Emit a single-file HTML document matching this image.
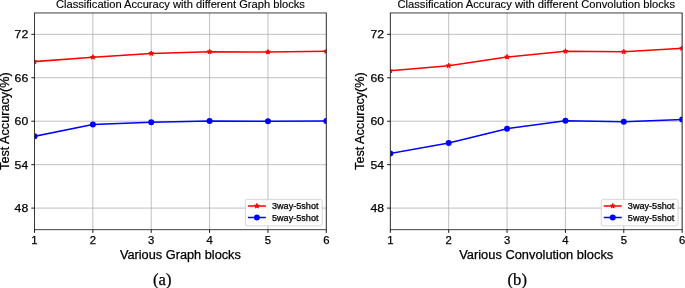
<!DOCTYPE html>
<html><head><meta charset="utf-8"><style>
html,body{margin:0;padding:0;background:#fff;width:685px;height:288px;overflow:hidden;}
svg{display:block;will-change:transform;}

</style></head><body>
<svg width="685" height="288" viewBox="0 0 685 288"><rect width="685" height="288" fill="#fff"/><clipPath id="clip0"><rect x="34.5" y="12.95" width="291.8" height="216.75"/></clipPath>
<path d="M34.50,12.95V229.7 M92.86,12.95V229.7 M151.22,12.95V229.7 M209.58,12.95V229.7 M267.94,12.95V229.7 M326.30,12.95V229.7 M34.5,208.10H326.3 M34.5,164.66H326.3 M34.5,121.22H326.3 M34.5,77.78H326.3 M34.5,34.34H326.3" stroke="#b0b0b0" stroke-width="0.8" stroke-opacity="1.0" fill="none"/>
<g clip-path="url(#clip0)">
<path d="M34.50,61.60 L92.86,57.20 L151.22,53.40 L209.58,51.70 L267.94,52.00 L326.30,51.30" stroke="#ff0000" stroke-width="1.5" fill="none" stroke-linejoin="round" stroke-linecap="square"/>
<path d="M34.50,136.30 L92.86,124.40 L151.22,122.30 L209.58,121.10 L267.94,121.30 L326.30,120.90" stroke="#0000ff" stroke-width="1.5" fill="none" stroke-linejoin="round" stroke-linecap="square"/>
<path d="M34.50,59.10 L35.06,60.83 L36.88,60.83 L35.41,61.90 L35.97,63.62 L34.50,62.55 L33.03,63.62 L33.59,61.90 L32.12,60.83 L33.94,60.83Z" fill="#ff0000" stroke="#ff0000" stroke-width="1.0" stroke-linejoin="round"/>
<circle cx="34.50" cy="136.30" r="3.0" fill="#0000ff"/>
<path d="M92.86,54.70 L93.42,56.43 L95.24,56.43 L93.77,57.50 L94.33,59.22 L92.86,58.15 L91.39,59.22 L91.95,57.50 L90.48,56.43 L92.30,56.43Z" fill="#ff0000" stroke="#ff0000" stroke-width="1.0" stroke-linejoin="round"/>
<circle cx="92.86" cy="124.40" r="3.0" fill="#0000ff"/>
<path d="M151.22,50.90 L151.78,52.63 L153.60,52.63 L152.13,53.70 L152.69,55.42 L151.22,54.35 L149.75,55.42 L150.31,53.70 L148.84,52.63 L150.66,52.63Z" fill="#ff0000" stroke="#ff0000" stroke-width="1.0" stroke-linejoin="round"/>
<circle cx="151.22" cy="122.30" r="3.0" fill="#0000ff"/>
<path d="M209.58,49.20 L210.14,50.93 L211.96,50.93 L210.49,52.00 L211.05,53.72 L209.58,52.65 L208.11,53.72 L208.67,52.00 L207.20,50.93 L209.02,50.93Z" fill="#ff0000" stroke="#ff0000" stroke-width="1.0" stroke-linejoin="round"/>
<circle cx="209.58" cy="121.10" r="3.0" fill="#0000ff"/>
<path d="M267.94,49.50 L268.50,51.23 L270.32,51.23 L268.85,52.30 L269.41,54.02 L267.94,52.95 L266.47,54.02 L267.03,52.30 L265.56,51.23 L267.38,51.23Z" fill="#ff0000" stroke="#ff0000" stroke-width="1.0" stroke-linejoin="round"/>
<circle cx="267.94" cy="121.30" r="3.0" fill="#0000ff"/>
<path d="M326.30,48.80 L326.86,50.53 L328.68,50.53 L327.21,51.60 L327.77,53.32 L326.30,52.25 L324.83,53.32 L325.39,51.60 L323.92,50.53 L325.74,50.53Z" fill="#ff0000" stroke="#ff0000" stroke-width="1.0" stroke-linejoin="round"/>
<circle cx="326.30" cy="120.90" r="3.0" fill="#0000ff"/>
</g>
<rect x="245.40" y="199.35" width="76.8" height="26.5" rx="2" ry="2" fill="#fff" fill-opacity="0.8" stroke="#cccccc" stroke-width="0.8"/>
<path d="M247.90,206 H265.90" stroke="#ff0000" stroke-width="1.5"/>
<path d="M256.90,203.50 L257.46,205.23 L259.28,205.23 L257.81,206.30 L258.37,208.02 L256.90,206.95 L255.43,208.02 L255.99,206.30 L254.52,205.23 L256.34,205.23Z" fill="#ff0000" stroke="#ff0000" stroke-width="1.0" stroke-linejoin="round"/>
<path d="M247.90,217.5 H265.90" stroke="#0000ff" stroke-width="1.5"/>
<circle cx="256.90" cy="217.5" r="3.0" fill="#0000ff"/>
<text x="272.00" y="209.20" font-size="8.3" font-family='"Liberation Sans", sans-serif' text-anchor="start" fill="#000" stroke="#000" stroke-width="0.25" textLength="46.5" lengthAdjust="spacingAndGlyphs" >3way-5shot</text>
<text x="272.00" y="221.00" font-size="8.3" font-family='"Liberation Sans", sans-serif' text-anchor="start" fill="#000" stroke="#000" stroke-width="0.25" textLength="46.5" lengthAdjust="spacingAndGlyphs" >5way-5shot</text>
<rect x="34.5" y="12.95" width="291.8" height="216.75" fill="none" stroke="#2a2a2a" stroke-width="0.9"/>
<path d="M34.50,229.7v3.2 M92.86,229.7v3.2 M151.22,229.7v3.2 M209.58,229.7v3.2 M267.94,229.7v3.2 M326.30,229.7v3.2 M34.5,208.10h-3.2 M34.5,164.66h-3.2 M34.5,121.22h-3.2 M34.5,77.78h-3.2 M34.5,34.34h-3.2" stroke="#000" stroke-width="0.9"/>
<text x="34.50" y="243.80" font-size="11.3" font-family='"Liberation Sans", sans-serif' text-anchor="middle" fill="#000" stroke="#000" stroke-width="0.25" >1</text>
<text x="92.86" y="243.80" font-size="11.3" font-family='"Liberation Sans", sans-serif' text-anchor="middle" fill="#000" stroke="#000" stroke-width="0.25" >2</text>
<text x="151.22" y="243.80" font-size="11.3" font-family='"Liberation Sans", sans-serif' text-anchor="middle" fill="#000" stroke="#000" stroke-width="0.25" >3</text>
<text x="209.58" y="243.80" font-size="11.3" font-family='"Liberation Sans", sans-serif' text-anchor="middle" fill="#000" stroke="#000" stroke-width="0.25" >4</text>
<text x="267.94" y="243.80" font-size="11.3" font-family='"Liberation Sans", sans-serif' text-anchor="middle" fill="#000" stroke="#000" stroke-width="0.25" >5</text>
<text x="326.30" y="243.80" font-size="11.3" font-family='"Liberation Sans", sans-serif' text-anchor="middle" fill="#000" stroke="#000" stroke-width="0.25" >6</text>
<text x="28.20" y="212.20" font-size="11.4" font-family='"Liberation Sans", sans-serif' text-anchor="end" fill="#000" stroke="#000" stroke-width="0.25" textLength="13.6" lengthAdjust="spacingAndGlyphs" >48</text>
<text x="28.20" y="168.76" font-size="11.4" font-family='"Liberation Sans", sans-serif' text-anchor="end" fill="#000" stroke="#000" stroke-width="0.25" textLength="13.6" lengthAdjust="spacingAndGlyphs" >54</text>
<text x="28.20" y="125.32" font-size="11.4" font-family='"Liberation Sans", sans-serif' text-anchor="end" fill="#000" stroke="#000" stroke-width="0.25" textLength="13.6" lengthAdjust="spacingAndGlyphs" >60</text>
<text x="28.20" y="81.88" font-size="11.4" font-family='"Liberation Sans", sans-serif' text-anchor="end" fill="#000" stroke="#000" stroke-width="0.25" textLength="13.6" lengthAdjust="spacingAndGlyphs" >66</text>
<text x="28.20" y="38.44" font-size="11.4" font-family='"Liberation Sans", sans-serif' text-anchor="end" fill="#000" stroke="#000" stroke-width="0.25" textLength="13.6" lengthAdjust="spacingAndGlyphs" >72</text>
<text x="180.40" y="7.80" font-size="10.0" font-family='"Liberation Sans", sans-serif' text-anchor="middle" fill="#000" stroke="#000" stroke-width="0.12" textLength="249" lengthAdjust="spacingAndGlyphs" >Classification Accuracy with different Graph blocks</text>
<text x="180.40" y="258.70" font-size="12.0" font-family='"Liberation Sans", sans-serif' text-anchor="middle" fill="#000" stroke="#000" stroke-width="0.25" textLength="121" lengthAdjust="spacingAndGlyphs" >Various Graph blocks</text>
<text x="0.00" y="0.00" font-size="12.0" font-family='"Liberation Sans", sans-serif' text-anchor="middle" fill="#000" stroke="#000" stroke-width="0.25" textLength="97.6" lengthAdjust="spacingAndGlyphs" transform="translate(8.50,121.1) rotate(-90)">Test Accuracy(%)</text>
<text x="153.00" y="284.90" font-size="16.6" font-family='"Liberation Serif", serif' text-anchor="start" fill="#000" stroke="#000" stroke-width="0.25" >(a)</text><clipPath id="clip355"><rect x="390.34" y="12.95" width="291.8" height="216.75"/></clipPath>
<path d="M390.34,12.95V229.7 M448.70,12.95V229.7 M507.06,12.95V229.7 M565.42,12.95V229.7 M623.78,12.95V229.7 M682.14,12.95V229.7 M390.34,208.10H682.14 M390.34,164.66H682.14 M390.34,121.22H682.14 M390.34,77.78H682.14 M390.34,34.34H682.14" stroke="#b0b0b0" stroke-width="0.8" stroke-opacity="1.0" fill="none"/>
<g clip-path="url(#clip355)">
<path d="M390.34,70.80 L448.70,65.70 L507.06,57.00 L565.42,51.20 L623.78,51.80 L682.14,48.30" stroke="#ff0000" stroke-width="1.5" fill="none" stroke-linejoin="round" stroke-linecap="square"/>
<path d="M390.34,153.40 L448.70,143.00 L507.06,128.70 L565.42,120.70 L623.78,121.70 L682.14,119.60" stroke="#0000ff" stroke-width="1.5" fill="none" stroke-linejoin="round" stroke-linecap="square"/>
<path d="M390.34,68.30 L390.90,70.03 L392.72,70.03 L391.25,71.10 L391.81,72.82 L390.34,71.75 L388.87,72.82 L389.43,71.10 L387.96,70.03 L389.78,70.03Z" fill="#ff0000" stroke="#ff0000" stroke-width="1.0" stroke-linejoin="round"/>
<circle cx="390.34" cy="153.40" r="3.0" fill="#0000ff"/>
<path d="M448.70,63.20 L449.26,64.93 L451.08,64.93 L449.61,66.00 L450.17,67.72 L448.70,66.65 L447.23,67.72 L447.79,66.00 L446.32,64.93 L448.14,64.93Z" fill="#ff0000" stroke="#ff0000" stroke-width="1.0" stroke-linejoin="round"/>
<circle cx="448.70" cy="143.00" r="3.0" fill="#0000ff"/>
<path d="M507.06,54.50 L507.62,56.23 L509.44,56.23 L507.97,57.30 L508.53,59.02 L507.06,57.95 L505.59,59.02 L506.15,57.30 L504.68,56.23 L506.50,56.23Z" fill="#ff0000" stroke="#ff0000" stroke-width="1.0" stroke-linejoin="round"/>
<circle cx="507.06" cy="128.70" r="3.0" fill="#0000ff"/>
<path d="M565.42,48.70 L565.98,50.43 L567.80,50.43 L566.33,51.50 L566.89,53.22 L565.42,52.15 L563.95,53.22 L564.51,51.50 L563.04,50.43 L564.86,50.43Z" fill="#ff0000" stroke="#ff0000" stroke-width="1.0" stroke-linejoin="round"/>
<circle cx="565.42" cy="120.70" r="3.0" fill="#0000ff"/>
<path d="M623.78,49.30 L624.34,51.03 L626.16,51.03 L624.69,52.10 L625.25,53.82 L623.78,52.75 L622.31,53.82 L622.87,52.10 L621.40,51.03 L623.22,51.03Z" fill="#ff0000" stroke="#ff0000" stroke-width="1.0" stroke-linejoin="round"/>
<circle cx="623.78" cy="121.70" r="3.0" fill="#0000ff"/>
<path d="M682.14,45.80 L682.70,47.53 L684.52,47.53 L683.05,48.60 L683.61,50.32 L682.14,49.25 L680.67,50.32 L681.23,48.60 L679.76,47.53 L681.58,47.53Z" fill="#ff0000" stroke="#ff0000" stroke-width="1.0" stroke-linejoin="round"/>
<circle cx="682.14" cy="119.60" r="3.0" fill="#0000ff"/>
</g>
<rect x="601.24" y="199.35" width="76.8" height="26.5" rx="2" ry="2" fill="#fff" fill-opacity="0.8" stroke="#cccccc" stroke-width="0.8"/>
<path d="M603.74,206 H621.74" stroke="#ff0000" stroke-width="1.5"/>
<path d="M612.74,203.50 L613.30,205.23 L615.12,205.23 L613.65,206.30 L614.21,208.02 L612.74,206.95 L611.27,208.02 L611.83,206.30 L610.36,205.23 L612.18,205.23Z" fill="#ff0000" stroke="#ff0000" stroke-width="1.0" stroke-linejoin="round"/>
<path d="M603.74,217.5 H621.74" stroke="#0000ff" stroke-width="1.5"/>
<circle cx="612.74" cy="217.5" r="3.0" fill="#0000ff"/>
<text x="627.84" y="209.20" font-size="8.3" font-family='"Liberation Sans", sans-serif' text-anchor="start" fill="#000" stroke="#000" stroke-width="0.25" textLength="46.5" lengthAdjust="spacingAndGlyphs" >3way-5shot</text>
<text x="627.84" y="221.00" font-size="8.3" font-family='"Liberation Sans", sans-serif' text-anchor="start" fill="#000" stroke="#000" stroke-width="0.25" textLength="46.5" lengthAdjust="spacingAndGlyphs" >5way-5shot</text>
<rect x="390.34" y="12.95" width="291.8" height="216.75" fill="none" stroke="#2a2a2a" stroke-width="0.9"/>
<path d="M390.34,229.7v3.2 M448.70,229.7v3.2 M507.06,229.7v3.2 M565.42,229.7v3.2 M623.78,229.7v3.2 M682.14,229.7v3.2 M390.34,208.10h-3.2 M390.34,164.66h-3.2 M390.34,121.22h-3.2 M390.34,77.78h-3.2 M390.34,34.34h-3.2" stroke="#000" stroke-width="0.9"/>
<text x="390.34" y="243.80" font-size="11.3" font-family='"Liberation Sans", sans-serif' text-anchor="middle" fill="#000" stroke="#000" stroke-width="0.25" >1</text>
<text x="448.70" y="243.80" font-size="11.3" font-family='"Liberation Sans", sans-serif' text-anchor="middle" fill="#000" stroke="#000" stroke-width="0.25" >2</text>
<text x="507.06" y="243.80" font-size="11.3" font-family='"Liberation Sans", sans-serif' text-anchor="middle" fill="#000" stroke="#000" stroke-width="0.25" >3</text>
<text x="565.42" y="243.80" font-size="11.3" font-family='"Liberation Sans", sans-serif' text-anchor="middle" fill="#000" stroke="#000" stroke-width="0.25" >4</text>
<text x="623.78" y="243.80" font-size="11.3" font-family='"Liberation Sans", sans-serif' text-anchor="middle" fill="#000" stroke="#000" stroke-width="0.25" >5</text>
<text x="682.14" y="243.80" font-size="11.3" font-family='"Liberation Sans", sans-serif' text-anchor="middle" fill="#000" stroke="#000" stroke-width="0.25" >6</text>
<text x="384.04" y="212.20" font-size="11.4" font-family='"Liberation Sans", sans-serif' text-anchor="end" fill="#000" stroke="#000" stroke-width="0.25" textLength="13.6" lengthAdjust="spacingAndGlyphs" >48</text>
<text x="384.04" y="168.76" font-size="11.4" font-family='"Liberation Sans", sans-serif' text-anchor="end" fill="#000" stroke="#000" stroke-width="0.25" textLength="13.6" lengthAdjust="spacingAndGlyphs" >54</text>
<text x="384.04" y="125.32" font-size="11.4" font-family='"Liberation Sans", sans-serif' text-anchor="end" fill="#000" stroke="#000" stroke-width="0.25" textLength="13.6" lengthAdjust="spacingAndGlyphs" >60</text>
<text x="384.04" y="81.88" font-size="11.4" font-family='"Liberation Sans", sans-serif' text-anchor="end" fill="#000" stroke="#000" stroke-width="0.25" textLength="13.6" lengthAdjust="spacingAndGlyphs" >66</text>
<text x="384.04" y="38.44" font-size="11.4" font-family='"Liberation Sans", sans-serif' text-anchor="end" fill="#000" stroke="#000" stroke-width="0.25" textLength="13.6" lengthAdjust="spacingAndGlyphs" >72</text>
<text x="536.24" y="7.80" font-size="10.0" font-family='"Liberation Sans", sans-serif' text-anchor="middle" fill="#000" stroke="#000" stroke-width="0.12" textLength="277.5" lengthAdjust="spacingAndGlyphs" >Classification Accuracy with different Convolution blocks</text>
<text x="536.24" y="258.70" font-size="12.0" font-family='"Liberation Sans", sans-serif' text-anchor="middle" fill="#000" stroke="#000" stroke-width="0.25" textLength="154" lengthAdjust="spacingAndGlyphs" >Various Convolution blocks</text>
<text x="0.00" y="0.00" font-size="12.0" font-family='"Liberation Sans", sans-serif' text-anchor="middle" fill="#000" stroke="#000" stroke-width="0.25" textLength="97.6" lengthAdjust="spacingAndGlyphs" transform="translate(364.34,121.1) rotate(-90)">Test Accuracy(%)</text>
<text x="507.60" y="284.90" font-size="16.6" font-family='"Liberation Serif", serif' text-anchor="start" fill="#000" stroke="#000" stroke-width="0.25" >(b)</text></svg>
</body></html>
